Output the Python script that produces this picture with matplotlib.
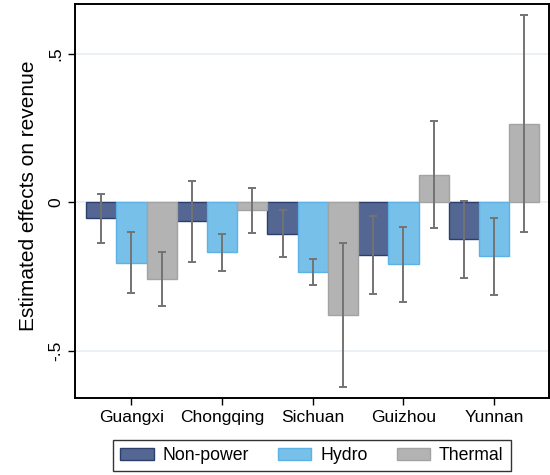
import numpy as np
import matplotlib.pyplot as plt

plt.rcParams['font.family'] = ['Liberation Sans', 'DejaVu Sans']

provinces = ["Guangxi", "Chongqing", "Sichuan", "Guizhou", "Yunnan"]
series = ["Non-power", "Hydro", "Thermal"]

# Punktschätzer
est_nonpower = [-0.055, -0.063, -0.107, -0.177, -0.125]
est_hydro = [-0.205, -0.168, -0.236, -0.208, -0.182]
est_thermal = [-0.259, -0.027, -0.380, 0.092, 0.263]

# Konfidenzintervalle (untere / obere Grenze)
lo_nonpower = [-0.138, -0.201, -0.185, -0.308, -0.254]
hi_nonpower = [0.027, 0.072, -0.026, -0.048, 0.004]
lo_hydro = [-0.306, -0.233, -0.280, -0.335, -0.312]
hi_hydro = [-0.101, -0.107, -0.191, -0.083, -0.052]
lo_thermal = [-0.349, -0.104, -0.622, -0.086, -0.102]
hi_thermal = [-0.168, 0.049, -0.138, 0.273, 0.631]

estimates = [est_nonpower, est_hydro, est_thermal]
lows = [lo_nonpower, lo_hydro, lo_thermal]
highs = [hi_nonpower, hi_hydro, hi_thermal]
face_colors = ["#536792", "#76c0ea", "#b3b3b3"]
edge_colors = ["#2c3f6c", "#5cb2e6", "#a3a3a3"]

fig = plt.figure(figsize=(5.5, 4.75), dpi=100)
ax = fig.add_axes([0.136, 0.162, 0.862, 0.830])

x = np.arange(1, len(provinces) + 1)
width = 1 / 3

for ax_line in [-0.5, 0, 0.5]:
    ax.axhline(ax_line, color="#e6eef2", linewidth=1.2, zorder=0)

for i, name in enumerate(series):
    pos = x + (i - 1) * width
    est = np.array(estimates[i])
    ax.bar(pos, est, width=width, color=face_colors[i], edgecolor=edge_colors[i],
           linewidth=1.0, label=name, zorder=2)
    lo = np.array(lows[i])
    hi = np.array(highs[i])
    ax.errorbar(pos, est, yerr=[est - lo, hi - est], fmt="none", ecolor="#737373",
                elinewidth=1.4, capsize=3.2, capthick=1.4, zorder=3)

ax.set_xlim(0.375, 5.605)
ax.set_ylim(-0.66, 0.668)
ax.set_xticks(x)
ax.set_xticklabels(provinces, fontsize=12.5)
ax.set_yticks([-0.5, 0, 0.5])
ax.set_yticklabels(["-.5", "0", ".5"], fontsize=12.5, rotation=90, va="center")
ax.tick_params(axis="both", length=5, width=1, color="black")
ax.set_ylabel("Estimated effects on revenue", fontsize=15)
ax.yaxis.set_label_coords(-0.077, 0.513)

for s in ax.spines.values():
    s.set_linewidth(1.4)
    s.set_color("black")

leg = fig.legend(loc="lower center", bbox_to_anchor=(0.567, 0.008), ncol=3, frameon=True,
                 fancybox=False, edgecolor="black", fontsize=12.7, handlelength=1.9,
                 handleheight=0.75, columnspacing=1.65, handletextpad=0.5, borderpad=0.4,
                 borderaxespad=0)
leg.get_frame().set_linewidth(1.0)

fig.savefig("out.png", dpi=100)
